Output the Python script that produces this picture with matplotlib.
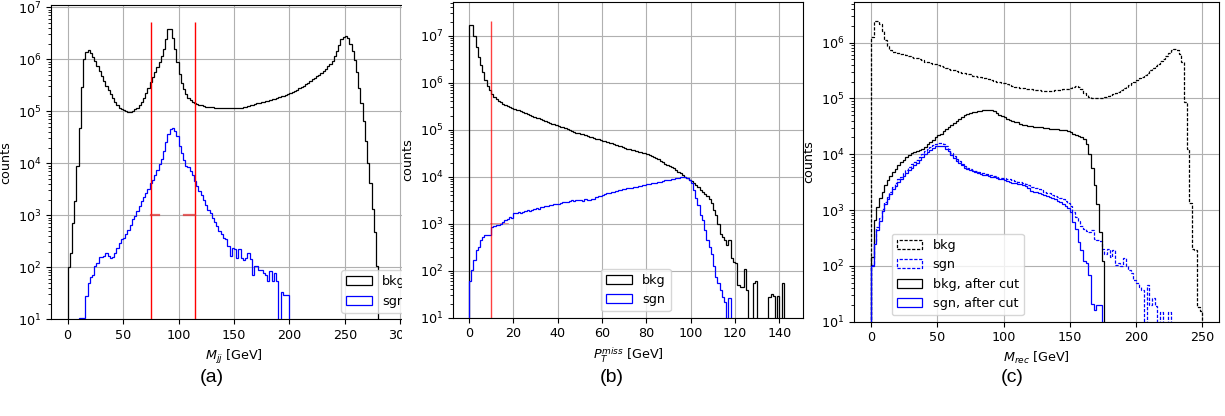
import numpy as np
import matplotlib
import matplotlib.pyplot as plt
from matplotlib.patches import Rectangle

matplotlib.use('agg')

# log10(counts) per bin; 0 means an empty bin
# (a) M_jj, 2 GeV bins from 0 to 300
a_bkg = [2.0, 2.27, 2.85, 3.27, 3.95, 4.68, 5.46, 6.0, 6.13, 6.18,
         6.12, 6.05, 5.96, 5.87, 5.78, 5.68, 5.58, 5.49, 5.41, 5.33,
         5.25, 5.18, 5.12, 5.07, 5.04, 5.02, 5.0, 4.99, 4.99, 5.01,
         5.04, 5.07, 5.12, 5.18, 5.26, 5.35, 5.45, 5.56, 5.66, 5.76,
         5.85, 5.94, 6.06, 6.2, 6.38, 6.58, 6.58, 6.4, 6.2, 5.95,
         5.72, 5.55, 5.42, 5.33, 5.26, 5.21, 5.18, 5.15, 5.13, 5.12,
         5.11, 5.1, 5.09, 5.09, 5.08, 5.08, 5.07, 5.07, 5.06, 5.06,
         5.06, 5.06, 5.06, 5.06, 5.06, 5.06, 5.06, 5.07, 5.07, 5.08,
         5.09, 5.1, 5.11, 5.12, 5.13, 5.15, 5.16, 5.17, 5.18, 5.19,
         5.2, 5.22, 5.23, 5.24, 5.26, 5.27, 5.29, 5.3, 5.31, 5.33,
         5.35, 5.37, 5.39, 5.41, 5.44, 5.46, 5.49, 5.52, 5.55, 5.58,
         5.61, 5.64, 5.67, 5.7, 5.73, 5.77, 5.81, 5.86, 5.91, 5.97,
         6.06, 6.15, 6.28, 6.38, 6.43, 6.44, 6.4, 6.3, 6.15, 5.98,
         5.75, 5.45, 5.15, 4.82, 4.43, 4.0, 3.62, 3.12, 2.68, 2.02,
         0, 0, 0, 0, 0, 0, 0, 0, 0, 0]
a_sgn = [0, 0, 0, 0, 0, 1.02, 1.02, 1.02, 1.44, 1.69,
         1.82, 1.86, 2.02, 2.08, 2.2, 2.2, 2.21, 2.27, 2.22, 2.18,
         2.2, 2.27, 2.37, 2.47, 2.54, 2.56, 2.63, 2.72, 2.82, 2.92,
         2.98, 3.08, 3.17, 3.27, 3.35, 3.43, 3.5, 3.62, 3.68, 3.78,
         3.87, 3.98, 4.08, 4.23, 4.4, 4.56, 4.65, 4.67, 4.62, 4.52,
         4.33, 4.19, 4.07, 3.95, 3.92, 3.85, 3.78, 3.66, 3.56, 3.46,
         3.38, 3.3, 3.2, 3.11, 3.04, 2.95, 2.87, 2.79, 2.7, 2.63,
         2.56, 2.54, 2.41, 2.21, 2.37, 2.35, 2.18, 2.35, 2.17, 2.14,
         2.17, 2.27, 2.15, 1.86, 2.02, 2.02, 1.95, 1.95, 1.89, 1.86,
         1.73, 1.92, 1.73, 1.89, 1.73, 0, 1.53, 1.47, 1.47, 1.47] + [0] * 50
a_cuts = [75, 115]
a_cut_marks = [(75, 82.5), (105, 115)]

# (b) P_T^miss, 1 GeV bins from 0 to 143
b_bkg = [7.23, 7.23, 7.0, 6.77, 6.55, 6.38, 6.23, 6.06, 5.93, 5.84,
         5.77, 5.7, 5.65, 5.61, 5.58, 5.55, 5.53, 5.51, 5.49, 5.47,
         5.45, 5.43, 5.41, 5.39, 5.37, 5.36, 5.34, 5.32, 5.3, 5.28,
         5.26, 5.24, 5.22, 5.21, 5.19, 5.17, 5.15, 5.13, 5.12, 5.1,
         5.08, 5.06, 5.05, 5.03, 5.01, 4.99, 4.98, 4.96, 4.94, 4.93,
         4.91, 4.9, 4.88, 4.87, 4.85, 4.84, 4.83, 4.81, 4.8, 4.78,
         4.77, 4.75, 4.74, 4.72, 4.71, 4.69, 4.68, 4.66, 4.65, 4.63,
         4.61, 4.6, 4.58, 4.57, 4.56, 4.55, 4.53, 4.52, 4.51, 4.5,
         4.48, 4.46, 4.45, 4.43, 4.4, 4.37, 4.34, 4.31, 4.28, 4.25,
         4.23, 4.2, 4.18, 4.14, 4.1, 4.07, 4.04, 4.0, 3.97, 3.94,
         3.9, 3.87, 3.82, 3.79, 3.72, 3.68, 3.63, 3.6, 3.52, 3.45,
         3.29, 3.18, 2.99, 2.79, 2.71, 2.65, 2.55, 2.65, 2.26, 2.19,
         2.16, 1.69, 1.66, 1.65, 2.03, 1.6, 0, 0, 1.73, 1.78,
         0, 0, 0, 0, 0, 1.45, 1.5, 1.47, 0, 1.46,
         0, 1.74, 0]
b_sgn = [1.78, 2.01, 2.23, 2.44, 2.51, 2.65, 2.72, 2.76, 2.75, 2.76,
         2.94, 2.96, 2.97, 2.97, 2.99, 3.04, 3.07, 3.11, 3.14, 3.13,
         3.22, 3.22, 3.24, 3.23, 3.25, 3.27, 3.29, 3.28, 3.3, 3.31,
         3.33, 3.32, 3.36, 3.35, 3.37, 3.38, 3.4, 3.39, 3.42, 3.42,
         3.43, 3.44, 3.46, 3.47, 3.46, 3.48, 3.5, 3.49, 3.5, 3.51,
         3.5, 3.49, 3.52, 3.51, 3.5, 3.52, 3.53, 3.56, 3.58, 3.6,
         3.62, 3.64, 3.65, 3.66, 3.67, 3.68, 3.69, 3.71, 3.72, 3.73,
         3.74, 3.75, 3.75, 3.77, 3.78, 3.79, 3.8, 3.81, 3.82, 3.83,
         3.84, 3.85, 3.86, 3.87, 3.87, 3.88, 3.89, 3.9, 3.92, 3.93,
         3.94, 3.95, 3.96, 3.97, 3.98, 3.99, 4.0, 3.99, 3.97, 3.94,
         3.86, 3.72, 3.54, 3.4, 3.18, 3.08, 2.87, 2.65, 2.51, 2.35,
         2.09, 1.87, 1.74, 1.6, 1.43, 1.34, 0, 1.41, 0, 0] + [0] * 23
b_cut = 10
b_cut_mark = (10, 17.5)

# (c) M_rec, 2 GeV bins from 0 to 250
c_bkg = [6.1, 6.38, 6.38, 6.33, 6.2, 6.05, 5.93, 5.87, 5.84, 5.83,
         5.81, 5.8, 5.79, 5.77, 5.76, 5.75, 5.73, 5.72, 5.7, 5.68,
         5.66, 5.65, 5.64, 5.62, 5.61, 5.6, 5.58, 5.57, 5.55, 5.53,
         5.51, 5.5, 5.49, 5.48, 5.46, 5.45, 5.44, 5.43, 5.41, 5.4,
         5.39, 5.38, 5.37, 5.36, 5.34, 5.33, 5.32, 5.3, 5.29, 5.28,
         5.27, 5.25, 5.24, 5.23, 5.21, 5.2, 5.19, 5.18, 5.17, 5.16,
         5.16, 5.15, 5.15, 5.15, 5.14, 5.14, 5.14, 5.14, 5.14, 5.15,
         5.15, 5.15, 5.16, 5.16, 5.17, 5.19, 5.21, 5.22, 5.2, 5.16,
         5.1, 5.06, 5.03, 5.01, 5.0, 5.0, 5.0, 5.01, 5.03, 5.04,
         5.06, 5.08, 5.1, 5.12, 5.15, 5.18, 5.21, 5.24, 5.27, 5.3,
         5.33, 5.36, 5.39, 5.42, 5.46, 5.5, 5.54, 5.58, 5.62, 5.67,
         5.71, 5.76, 5.81, 5.86, 5.88, 5.87, 5.8, 5.66, 4.93, 4.1,
         3.12, 2.3, 2.28, 1.27, 1.2]
c_sgn = [2.02, 2.45, 2.7, 2.85, 3.02, 3.14, 3.24, 3.33, 3.42, 3.48,
         3.55, 3.6, 3.66, 3.72, 3.77, 3.82, 3.86, 3.9, 3.95, 4.0,
         4.05, 4.09, 4.13, 4.16, 4.19, 4.2, 4.2, 4.18, 4.15, 4.09,
         4.03, 3.97, 3.92, 3.87, 3.83, 3.79, 3.75, 3.73, 3.72, 3.7,
         3.69, 3.67, 3.66, 3.64, 3.63, 3.62, 3.61, 3.6, 3.58, 3.57,
         3.57, 3.56, 3.55, 3.54, 3.52, 3.5, 3.5, 3.48, 3.47, 3.45,
         3.42, 3.41, 3.4, 3.38, 3.36, 3.33, 3.31, 3.3, 3.27, 3.25,
         3.24, 3.22, 3.19, 3.16, 3.12, 3.08, 2.97, 2.88, 2.8, 2.72,
         2.66, 2.63, 2.61, 2.64, 2.49, 2.47, 2.44, 2.3, 2.21, 2.31,
         2.16, 2.28, 2.02, 2.05, 2.0, 2.14, 1.99, 1.93, 1.87, 1.75,
         1.69, 1.63, 1.57, 0, 1.66, 1.3, 1.42, 1.28, 0, 1.18,
         0, 0, 1.18] + [0] * 12
c_bkg_cut = [2.16, 2.82, 3.06, 3.21, 3.33, 3.45, 3.53, 3.61, 3.68, 3.73,
             3.8, 3.86, 3.9, 3.95, 3.99, 4.02, 4.04, 4.06, 4.08, 4.1,
             4.13, 4.18, 4.22, 4.26, 4.3, 4.34, 4.37, 4.41, 4.45, 4.49,
             4.53, 4.56, 4.6, 4.64, 4.67, 4.7, 4.72, 4.74, 4.75, 4.76,
             4.77, 4.78, 4.79, 4.8, 4.8, 4.79, 4.77, 4.74, 4.71, 4.68,
             4.66, 4.64, 4.62, 4.6, 4.58, 4.57, 4.55, 4.53, 4.52, 4.51,
             4.5, 4.49, 4.49, 4.48, 4.48, 4.47, 4.47, 4.46, 4.46, 4.45,
             4.45, 4.44, 4.44, 4.43, 4.42, 4.4, 4.37, 4.35, 4.33, 4.3,
             4.27, 4.18, 4.0, 3.75, 3.45, 3.1, 2.6, 2.08] + [0] * 37
c_sgn_cut = [1.99, 2.4, 2.65, 2.8, 2.98, 3.1, 3.2, 3.29, 3.37, 3.43,
             3.5, 3.55, 3.61, 3.67, 3.72, 3.76, 3.8, 3.85, 3.9, 3.95,
             4.0, 4.04, 4.08, 4.12, 4.14, 4.15, 4.15, 4.14, 4.1, 4.05,
             3.99, 3.93, 3.88, 3.84, 3.8, 3.76, 3.74, 3.72, 3.7, 3.68,
             3.67, 3.65, 3.63, 3.62, 3.61, 3.6, 3.59, 3.58, 3.56, 3.55,
             3.54, 3.52, 3.5, 3.49, 3.48, 3.47, 3.46, 3.44, 3.43, 3.4,
             3.35, 3.33, 3.32, 3.3, 3.28, 3.27, 3.25, 3.23, 3.21, 3.2,
             3.17, 3.14, 3.11, 3.08, 3.04, 2.97, 2.79, 2.66, 2.42, 2.28,
             2.08, 2.06, 1.84, 1.32, 1.21, 1.3, 1.3] + [0] * 38

plt.rcParams['font.size'] = 9.2
LW = 0.9


def step_hist(ax, start, width, log_vals, **kw):
    v = np.array(log_vals, dtype=float)
    w = np.where(v > 0, 10 ** v, 0.0)
    edges = start + width * np.arange(len(w) + 1)
    ax.hist(edges[:-1], bins=edges, weights=w, histtype='step', log=True, lw=LW, **kw)


fig = plt.figure(figsize=(12.25, 4.16), dpi=100)

# (a)
ax_a = fig.add_axes([0.0416, 0.2325, 0.2988, 0.7555])
step_hist(ax_a, 0, 2, a_bkg, color='black', label='bkg')
step_hist(ax_a, 0, 2, a_sgn, color='blue', label='sgn')
ax_a.vlines(a_cuts, 10, 5.1e6, color='red', lw=1.0)
for x0, x1 in a_cut_marks:
    ax_a.plot([x0, x1], [1e3, 1e3], color='#e03030', alpha=0.75, lw=1.6)
ax_a.set_xlim(-15, 315)
ax_a.set_ylim(10, 1.1e7)
ax_a.set_xlabel('$M_{jj}$ [GeV]')
ax_a.set_ylabel('counts')
ax_a.grid(True)
ax_a.legend(loc='lower right')

# (b)
ax_b = fig.add_axes([0.3698, 0.2363, 0.2857, 0.7596])
ax_b.set_zorder(3)
step_hist(ax_b, 0, 1, b_bkg, color='black', label='bkg')
step_hist(ax_b, 0, 1, b_sgn, color='blue', label='sgn')
ax_b.vlines([b_cut], 10, 2.1e7, color='red', alpha=0.75, lw=1.0)
ax_b.plot(b_cut_mark, [1e3, 1e3], color='#e03030', alpha=0.6, lw=1.2, zorder=0.5)
ax_b.set_xlim(-7.2, 150.6)
ax_b.set_ylim(10, 5.3e7)
ax_b.set_xlabel('$P_T^{miss}$ [GeV]')
ax_b.set_ylabel('counts')
ax_b.grid(True)
ax_b.legend(loc='lower center', bbox_to_anchor=(0.523, 0.0))

# (c)
ax_c = fig.add_axes([0.6974, 0.2267, 0.2977, 0.7692])
ax_c.set_zorder(3)
dash = (0, (2.6, 1.3))
step_hist(ax_c, 0, 2, c_bkg, color='black', linestyle=dash, label='bkg')
step_hist(ax_c, 0, 2, c_sgn, color='blue', linestyle=dash, label='sgn')
step_hist(ax_c, 0, 2, c_bkg_cut, color='black', label='bkg, after cut')
step_hist(ax_c, 0, 2, c_sgn_cut, color='blue', label='sgn, after cut')
ax_c.set_xlim(-12.5, 262.5)
ax_c.set_ylim(10, 5.4e6)
ax_c.set_xlabel('$M_{rec}$ [GeV]')
ax_c.set_ylabel('counts')
ax_c.grid(True)
ax_c.legend(loc='lower left', bbox_to_anchor=(0.085, 0.0))

# panel (a) is cropped on its right side in the original figure
fig.add_artist(Rectangle((402 / 1225, 0), 51 / 1225, 1, transform=fig.transFigure,
                         facecolor='white', edgecolor='none', zorder=2))

for x, s in [(212, '(a)'), (612, '(b)'), (1012, '(c)')]:
    fig.text(x / 1225, 1 - 378 / 416, s, ha='center', va='center',
             fontsize=14, family='Liberation Sans')

fig.savefig('out.png', dpi=100)
